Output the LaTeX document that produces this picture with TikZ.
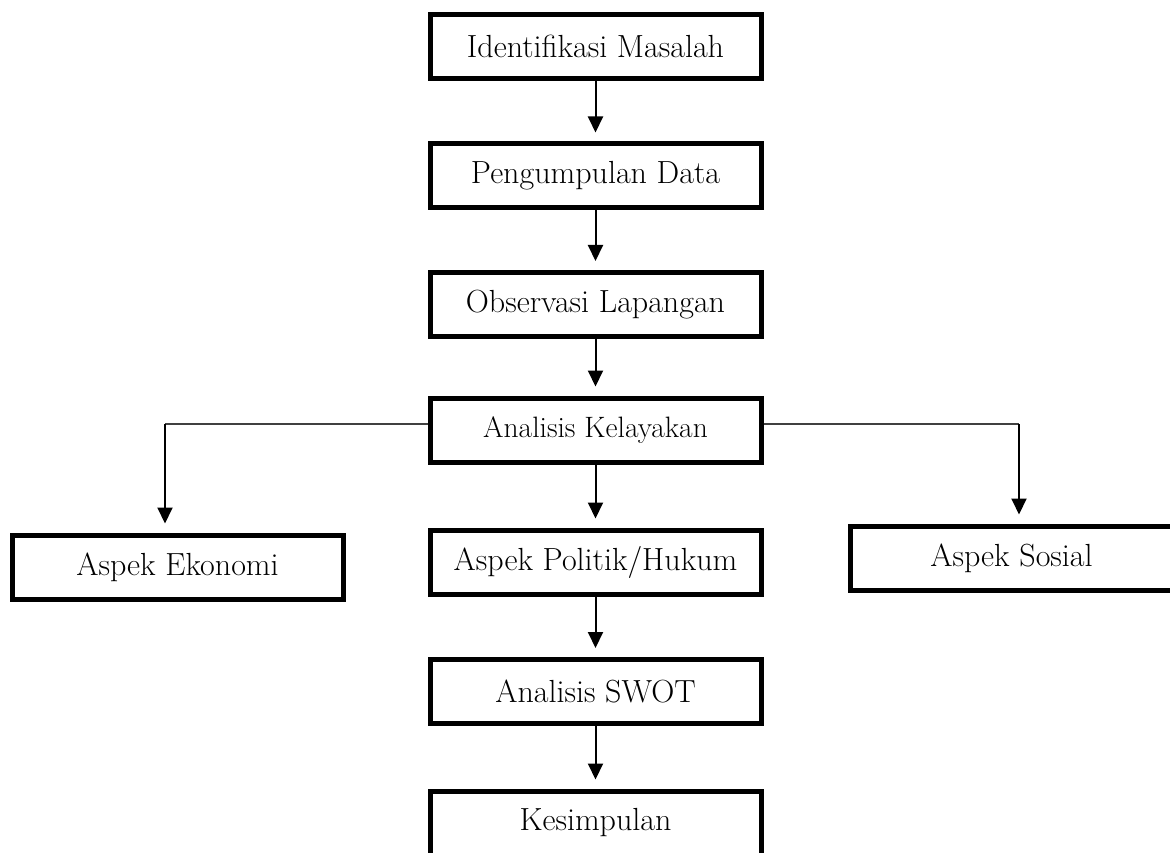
\documentclass[tikz,border=0pt]{standalone}
\usepackage{tikz}
\usetikzlibrary{arrows.meta,positioning,calc}

\tikzset{
  stepbox/.style={draw=black,line width=5pt,rectangle,fill=white,
    minimum width=331pt,minimum height=64pt,inner sep=0pt,
    font=\fontsize{32}{38}\selectfont},
  flow/.style={line width=2pt,-{Triangle[width=15pt,length=16pt]},shorten >=9pt},
  branch/.style={line width=1.3pt,draw=black!75}
}

\begin{document}
\begin{tikzpicture}[x=1pt,y=1pt]
  \useasboundingbox (0,0) rectangle (1170,-853);
  % main column
  \foreach \name/\yy/\txt in {idm/46.5/{Identifikasi Masalah}, pgd/176/{Pengumpulan Data},
      obs/304.5/{Observasi Lapangan}, pol/562/{Aspek Politik/Hukum},
      swt/691.5/{Analisis SWOT}, ksp/823/{Kesimpulan}}{
    \node[stepbox] (\name) at (595.5,-\yy) {\txt};
  }
  \node[stepbox,font=\fontsize{29.5}{35}\selectfont] (kel) at (595.5,-430) {Analisis Kelayakan};
  % side aspects
  \node[stepbox] (eko) at (177.5,-567) {Aspek Ekonomi};
  \node[stepbox,minimum width=322pt] (sos) at (1011.5,-558) {Aspek Sosial};
  \foreach \a/\b in {idm/pgd, pgd/obs, obs/kel, kel/pol, pol/swt, swt/ksp}
    \draw[flow] (\a) -- (\b);
  % branches from the feasibility box
  \coordinate (ekoTurn) at (165,-424);
  \coordinate (sosTurn) at (1019,-424);
  \draw[branch] (kel.west |- ekoTurn) -- (ekoTurn);
  \draw[branch] (kel.east |- sosTurn) -- (sosTurn);
  \draw[flow] (ekoTurn) -- (ekoTurn |- eko.north);
  \draw[flow] (sosTurn) -- (sosTurn |- sos.north);
\end{tikzpicture}
\end{document}
